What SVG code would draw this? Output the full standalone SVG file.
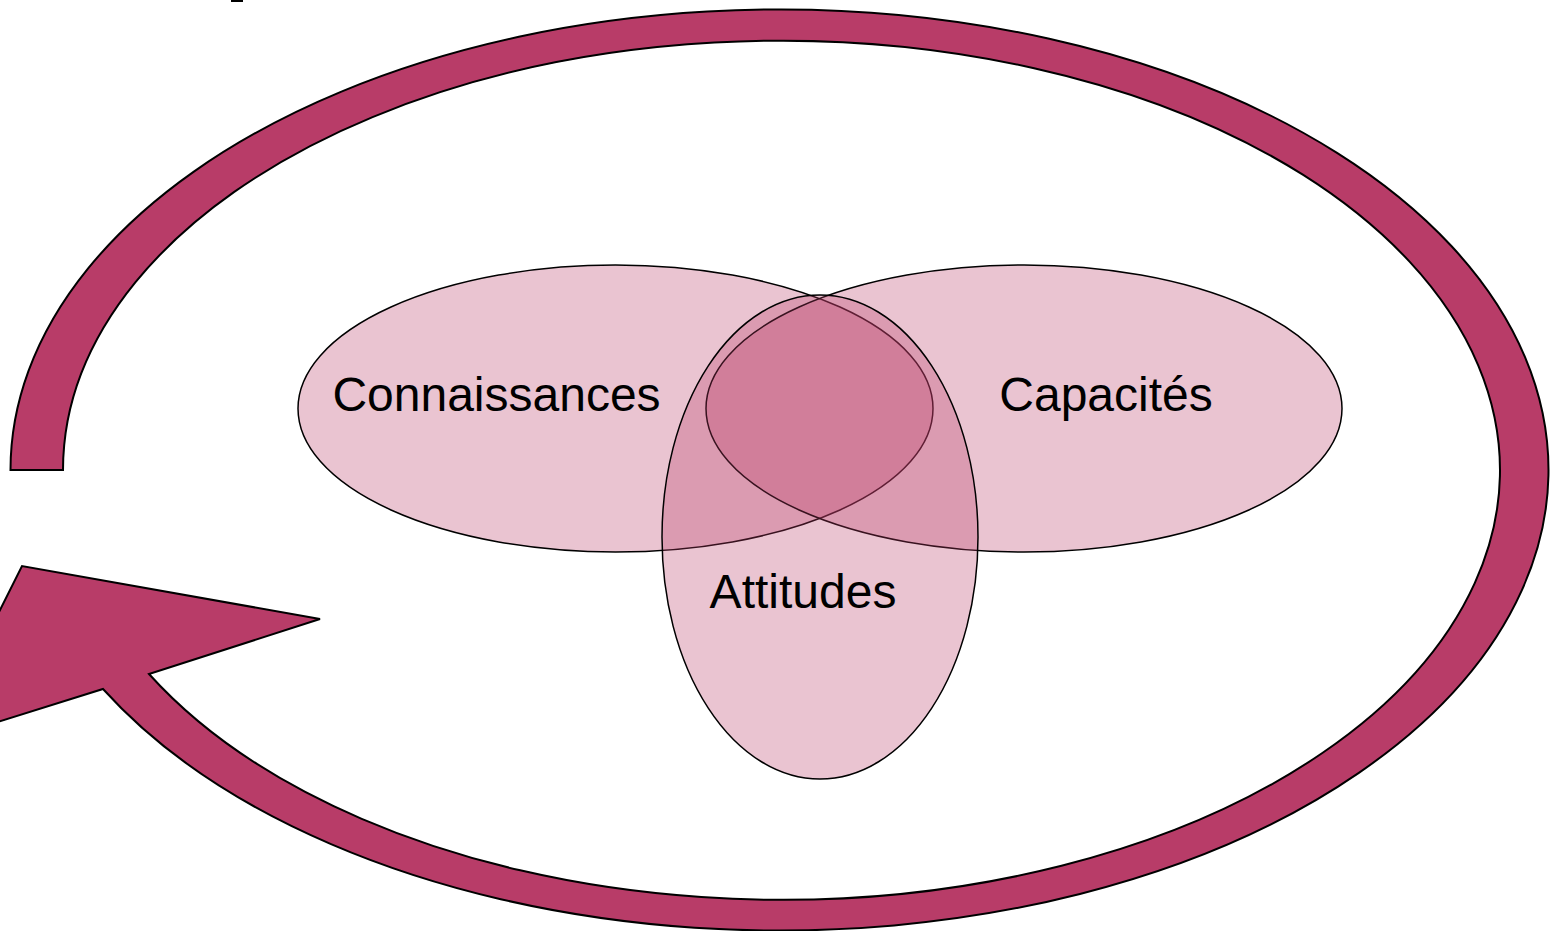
<svg xmlns="http://www.w3.org/2000/svg" width="1550" height="931" viewBox="0 0 1550 931">
  <style>
    .ring { fill: #B83C68; stroke: #000; stroke-width: 2; stroke-linejoin: miter; }
    .set { fill: #B83C68; fill-opacity: 0.3; stroke: #000; stroke-width: 1.5; }
    .lbl { font-family: "Liberation Sans", Arial, sans-serif; font-size: 48px; fill: #000; text-anchor: middle; }
  </style>
  <rect width="1550" height="931" fill="#fff"/>
  <rect x="231" y="0" width="12" height="2" fill="#000"/>
  <g id="cycle-arrow">
    <path class="ring" d="M 10.5 470 A 769 460.5 0 1 1 103 689 L -66 742 L 22 566 L 320 619 L 149 674 A 718.5 429.5 0 1 0 63 470 Z"/>
  </g>
  <g id="connaissances">
    <ellipse class="set" cx="615.5" cy="408.5" rx="317.5" ry="143.5"/>
  </g>
  <g id="capacites">
    <ellipse class="set" cx="1024" cy="408.5" rx="318" ry="143.5"/>
  </g>
  <g id="attitudes">
    <ellipse class="set" cx="820" cy="537" rx="158" ry="242"/>
  </g>
  <g id="labels">
    <text class="lbl" x="496.5" y="411">Connaissances</text>
    <text class="lbl" x="1106" y="411">Capacités</text>
    <text class="lbl" x="803" y="608">Attitudes</text>
  </g>
</svg>
